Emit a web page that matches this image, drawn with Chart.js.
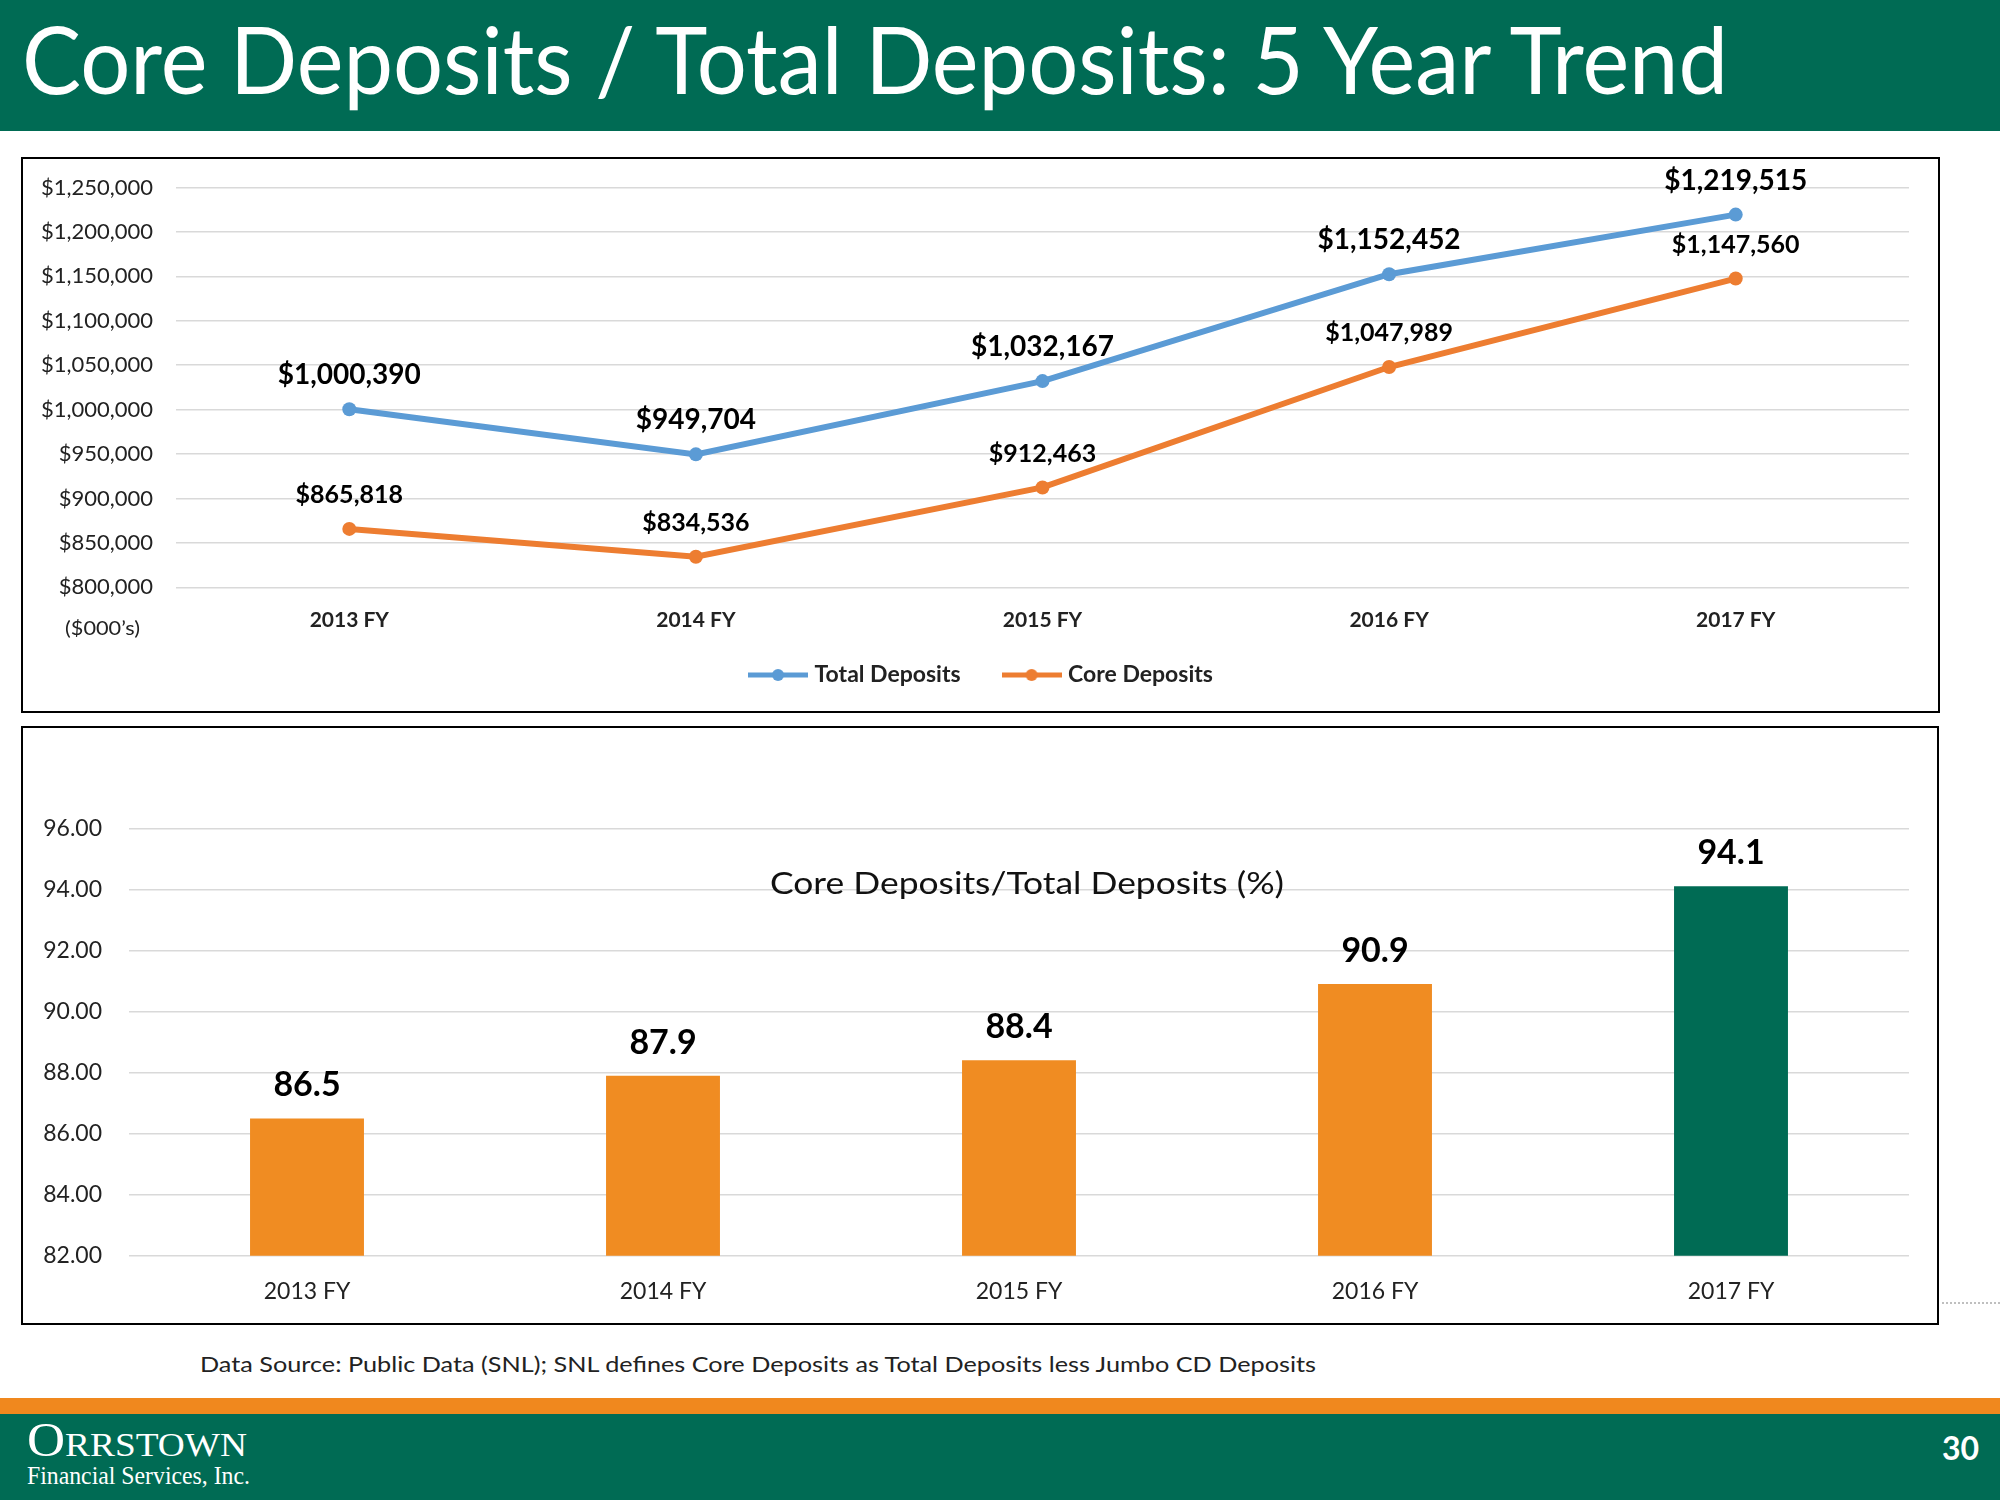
<!DOCTYPE html>
<html><head><meta charset="utf-8">
<script src="https://cdn.jsdelivr.net/npm/chart.js@4.4.1/dist/chart.umd.min.js"></script>
<style>
html,body{margin:0;padding:0;background:#fff;}
body{width:2000px;height:1500px;position:relative;overflow:hidden;font-family:Lato,'Open Sans',sans-serif;}
.abs{position:absolute;white-space:nowrap;line-height:1;transform-origin:left top;}
#header{position:absolute;left:0;top:0;width:2000px;height:131px;background:#006B54;}
#title{left:22px;top:12px;font-size:93px;color:#fff;}
.box{position:absolute;border:2px solid #000;box-sizing:border-box;}
#box1{left:21px;top:157px;width:1919px;height:556px;}
#box2{left:21px;top:726px;width:1918px;height:599px;}
#c1{position:absolute;left:23px;top:159px;}
#c2{position:absolute;left:23px;top:728px;}
#unit{left:65px;top:617px;font-size:20px;color:#222;}
#ctitle{left:770px;top:867px;font-size:31px;color:#111;}
#dots{position:absolute;left:1942px;top:1302px;width:58px;height:0;border-top:2px dotted #bfbfbf;}
#note{left:200px;top:1353px;font-size:22px;color:#222;}
#orange{position:absolute;left:0;top:1398px;width:2000px;height:16px;background:#F0881E;}
#footer{position:absolute;left:0;top:1414px;width:2000px;height:86px;background:#006B54;}
#logo1{left:27px;top:1416px;font-family:'Liberation Serif','DejaVu Serif',serif;font-size:48px;color:#fff;font-variant:small-caps;}
#logo2{left:27px;top:1463px;font-family:'Liberation Serif','DejaVu Serif',serif;font-size:25px;color:#fff;}
#page{right:21px;top:1432px;font-size:32px;font-weight:bold;color:#fff;}
</style></head>
<body>
<div id="header"></div>
<div id="title" class="abs" data-w="1706">Core Deposits / Total Deposits: 5 Year Trend</div>
<div id="box1" class="box"></div>
<div id="box2" class="box"></div>
<canvas id="c1" width="1915" height="552"></canvas>
<canvas id="c2" width="1914" height="595"></canvas>
<div id="unit" class="abs" data-w="75">($000’s)</div>
<div id="ctitle" class="abs" data-w="514">Core Deposits/Total Deposits (%)</div>
<div id="dots"></div>
<div id="note" class="abs" data-w="1116">Data Source: Public Data (SNL); SNL defines Core Deposits as Total Deposits less Jumbo CD Deposits</div>
<div id="orange"></div>
<div id="footer"></div>
<div id="logo1" class="abs" data-w="220">Orrstown</div>
<div id="logo2" class="abs" data-w="223">Financial Services, Inc.</div>
<div id="page" class="abs">30</div>
<script>
// ---- data ----
const categories = ['2013 FY', '2014 FY', '2015 FY', '2016 FY', '2017 FY'];
const totalDeposits = [1000390, 949704, 1032167, 1152452, 1219515];
const coreDeposits = [865818, 834536, 912463, 1047989, 1147560];
const coreRatio = [86.5, 87.9, 88.4, 90.9, 94.1];
const depositAxis = [800000, 1250000, 50000];   // min, max, step
const ratioAxis = [82, 96, 2];                  // min, max, step
const seriesNames = ['Total Deposits', 'Core Deposits'];

// ---- styles ----
const BLUE = '#5B9BD5', ORANGE_LINE = '#ED7D31', ORANGE_BAR = '#F08C22', GREEN = '#006B54';
const GRID = '#D9D9D9', TXT = '#222';
const FONT = 'Lato, "Open Sans", sans-serif';

function commas(v){ return Math.round(v).toString().replace(/\B(?=(\d{3})+(?!\d))/g, ','); }

const valueLabels = {
  id: 'valueLabels',
  afterDatasetsDraw(chart, args, opts) {
    const ctx = chart.ctx;
    chart.data.datasets.forEach((ds, i) => {
      const meta = chart.getDatasetMeta(i);
      meta.data.forEach((el, j) => {
        ctx.save();
        ctx.font = opts.fonts[i];
        ctx.fillStyle = '#000';
        ctx.textAlign = 'center';
        ctx.textBaseline = 'middle';
        ctx.fillText(opts.format(ds.data[j]), el.x, el.y - opts.offset);
        ctx.restore();
      });
    });
  }
};

// moves the legend box after layout (keeps the wide item spacing)
const legendShift = {
  id: 'legendShift',
  afterLayout(chart, args, opts) {
    if (chart.legend) {
      chart.legend.top += opts.dy || 0;
      chart.legend.bottom += opts.dy || 0;
      chart.legend.left += opts.dx || 0;
      chart.legend.right += opts.dx || 0;
    }
  }
};

function legendIcon(color) {
  const c = document.createElement('canvas');
  c.width = 60; c.height = 14;
  const x = c.getContext('2d');
  x.strokeStyle = color; x.lineWidth = 5;
  x.beginPath(); x.moveTo(0, 7); x.lineTo(60, 7); x.stroke();
  x.fillStyle = color; x.beginPath(); x.arc(30, 7, 6, 0, Math.PI * 2); x.fill();
  return c;
}
const icons = [legendIcon(BLUE), legendIcon(ORANGE_LINE)];
const lineColors = [BLUE, ORANGE_LINE];

new Chart(document.getElementById('c1'), {
  type: 'line',
  data: {
    labels: categories,
    datasets: [totalDeposits, coreDeposits].map((d, i) => ({
      label: seriesNames[i], data: d,
      borderColor: lineColors[i], backgroundColor: lineColors[i],
      borderWidth: 6, pointRadius: 7, pointBorderWidth: 0,
      pointBackgroundColor: lineColors[i], tension: 0
    }))
  },
  options: {
    responsive: false, animation: false,
    layout: { padding: { left: 14, right: 29, top: 28.5, bottom: 0 } },
    scales: {
      x: {
        offset: true,
        grid: { display: false, drawTicks: false },
        border: { display: false },
        ticks: { padding: 20, color: TXT, font: { family: FONT, size: 21, weight: 'bold' } },
        afterFit: s => { s.height = 44.6; }
      },
      y: {
        min: depositAxis[0], max: depositAxis[1],
        grid: { color: GRID, lineWidth: 1.5, drawTicks: true, tickLength: 23, tickColor: 'rgba(0,0,0,0)' },
        border: { display: false },
        ticks: { stepSize: depositAxis[2], padding: 0, color: TXT,
          font: { family: FONT, size: 22 }, callback: v => '$' + commas(v) },
        afterFit: s => { s.width = 139; }
      }
    },
    plugins: {
      legend: {
        position: 'bottom',
        labels: {
          usePointStyle: true, pointStyleWidth: 50, padding: 46, color: TXT,
          font: { family: FONT, size: 23, weight: 'bold' },
          generateLabels: chart => chart.data.datasets.map((ds, i) => ({
            text: ds.label, pointStyle: icons[i], fillStyle: lineColors[i],
            strokeStyle: lineColors[i], lineWidth: 0, datasetIndex: i, fontColor: TXT
          }))
        }
      },
      legendShift: { dy: -14.5, dx: 10 },
      tooltip: { enabled: false },
      valueLabels: {
        fonts: ['bold 28px ' + FONT, 'bold 25px ' + FONT],
        offset: 34,
        format: v => '$' + commas(v)
      }
    }
  },
  plugins: [valueLabels, legendShift]
});

new Chart(document.getElementById('c2'), {
  type: 'bar',
  data: {
    labels: categories,
    datasets: [{
      label: 'Core Deposits/Total Deposits (%)',
      data: coreRatio,
      backgroundColor: coreRatio.map((v, i) => i === coreRatio.length - 1 ? GREEN : ORANGE_BAR),
      categoryPercentage: 1, barPercentage: 0.32
    }]
  },
  options: {
    responsive: false, animation: false,
    layout: { padding: { left: 0, right: 28, top: 100.3, bottom: 0 } },
    scales: {
      x: {
        grid: { display: false, drawTicks: false },
        border: { display: false },
        ticks: { padding: 21.5, color: TXT, font: { family: FONT, size: 23 } },
        afterFit: s => { s.height = 67.2; }
      },
      y: {
        min: ratioAxis[0], max: ratioAxis[1],
        grid: { color: GRID, lineWidth: 1.5, drawTicks: false },
        border: { display: false },
        ticks: { stepSize: ratioAxis[2], padding: 27, color: TXT,
          font: { family: FONT, size: 23 }, callback: v => v.toFixed(2) },
        afterFit: s => { s.width = 106; }
      }
    },
    plugins: {
      legend: { display: false },
      tooltip: { enabled: false },
      valueLabels: { fonts: ['bold 34px ' + FONT], offset: 33, format: v => v.toFixed(1) }
    }
  },
  plugins: [valueLabels]
});

document.querySelectorAll('[data-w]').forEach(el => {
  const w = el.getBoundingClientRect().width;
  el.style.transform = 'scaleX(' + (el.dataset.w / w) + ')';
});
</script>
</body></html>
